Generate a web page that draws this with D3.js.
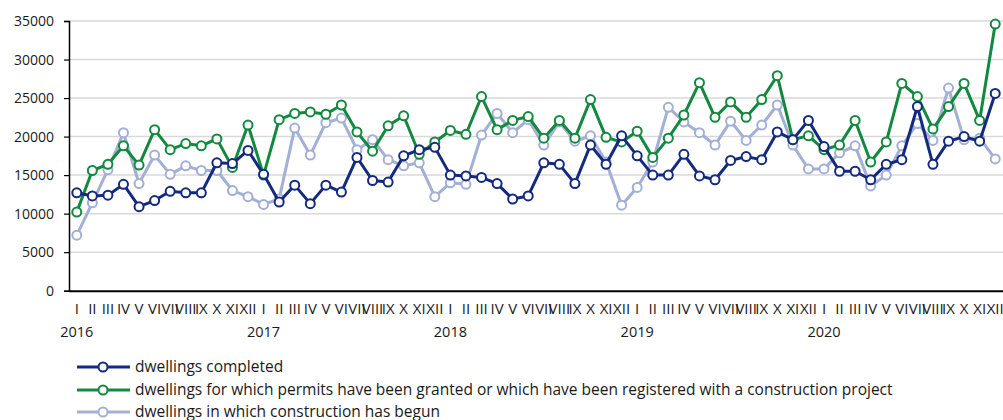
<!DOCTYPE html>
<html><head><meta charset="utf-8">
<script src="https://cdn.jsdelivr.net/npm/d3@7"></script>
<style>body{margin:0;background:#fff;} text{font-family:"Open Sans",sans-serif;fill:#1a1a1a;}</style>
</head><body><svg id="c" width="1003" height="420"></svg>
<script>
const years = ["2016","2017","2018","2019","2020"];
const months = ["I","II","III","IV","V","VI","VII","VIII","IX","X","XI","XII"];
const yTicks = [0,5000,10000,15000,20000,25000,30000,35000];
const seriesNames = ["dwellings completed","dwellings for which permits have been granted or which have been registered with a construction project","dwellings in which construction has begun"];
const completed = [12700,12300,12400,13800,10900,11700,12900,12700,12700,16600,16500,18200,
 15100,11500,13700,11300,13700,12800,17300,14300,14100,17500,18300,18600,
 15000,14900,14700,13900,11900,12300,16600,16400,13900,18900,16400,20100,
 17500,15000,15000,17700,14900,14400,16900,17400,17000,20600,19600,22100,
 18700,15500,15500,14400,16400,17000,23900,16400,19400,20000,19400,25600];
const permits = [10200,15600,16400,18800,16300,20900,18300,19100,18800,19700,16000,21500,
 15000,22200,23000,23200,22900,24100,20600,18100,21400,22700,17700,19300,
 20800,20300,25200,20900,22100,22600,19800,22100,19800,24800,19900,19300,
 20700,17300,19800,22800,27000,22500,24500,22500,24800,27900,19600,20100,
 18300,18900,22100,16700,19300,26900,25200,21000,23900,26900,22100,34600];
const begun = [7200,11400,15700,20500,13900,17600,15100,16200,15600,15600,13000,12200,
 11200,11900,21100,17600,21800,22400,18300,19600,17000,16200,16600,12200,
 14000,13800,20200,23000,20500,22200,18900,21900,19400,20100,16700,11100,
 13400,16700,23800,21900,20500,18900,22000,19500,21500,24100,18900,15800,
 15800,17900,18800,13600,15000,18800,21700,19500,26300,19600,19800,17100];
const colors = ["#142a7e","#13893f","#a3afd4"];

const svg = d3.select("#c");
const L = 69, R = 1003, T = 21, B = 290.7;
const n = years.length*months.length;
const idx = d3.range(n);
const x = d3.scaleBand().domain(idx).range([L,R]);
const y = d3.scaleLinear().domain([0,35000]).range([B,T]);
const cx = i => x(i)+x.bandwidth()/2;

// gridlines
svg.append("g").selectAll("line").data(yTicks.filter(d=>d>0)).join("line")
  .attr("x1",L).attr("x2",R).attr("y1",d=>y(d)).attr("y2",d=>y(d))
  .attr("stroke","#d9d9d9").attr("stroke-width",1.5);

// y axis
const ya = svg.append("g").attr("transform",`translate(${L},0)`)
  .call(d3.axisLeft(y).tickValues(yTicks).tickFormat(d3.format("d")).tickSize(5).tickPadding(10));
ya.select(".domain").attr("stroke","#000").attr("stroke-width",1.5);
ya.selectAll(".tick line").attr("stroke","#000").attr("stroke-width",1.2);
ya.selectAll("text").style("font-size","14px").style("font-family","'Open Sans',sans-serif").attr("fill","#1a1a1a");

// x axis
const xa = svg.append("g").attr("transform",`translate(0,${B})`)
  .call(d3.axisBottom(x).tickSize(0).tickPadding(13).tickFormat(i=>months[i%12]));
xa.select(".domain").attr("stroke","#000").attr("stroke-width",2);
xa.selectAll("text").style("font-size","15px").style("font-family","'Open Sans',sans-serif").attr("fill","#1a1a1a");

// year labels
svg.append("g").selectAll("text").data(years).join("text")
  .attr("x",(d,i)=>cx(i*12)).attr("y",336.5).attr("text-anchor","middle")
  .style("font-size","14.5px").text(d=>d);

// lines
const data = [completed, permits, begun];
const line = d3.line().x((d,i)=>cx(i)).y(d=>y(d));
[2,1,0].forEach(k=>{
  const g = svg.append("g");
  g.append("path").datum(data[k]).attr("d",line).attr("fill","none")
    .attr("stroke",colors[k]).attr("stroke-width",3).attr("stroke-linejoin","round");
  g.selectAll("circle").data(data[k]).join("circle")
    .attr("cx",(d,i)=>cx(i)).attr("cy",d=>y(d)).attr("r",4.5)
    .attr("fill","#fff").attr("stroke",colors[k]).attr("stroke-width",2);
});

// legend
const lg = svg.append("g");
const ly = [367,390,412];
seriesNames.forEach((s,k)=>{
  lg.append("line").attr("x1",77).attr("x2",130).attr("y1",ly[k]).attr("y2",ly[k])
    .attr("stroke",colors[k]).attr("stroke-width",3);
  lg.append("circle").attr("cx",103).attr("cy",ly[k]).attr("r",4.5)
    .attr("fill","#fff").attr("stroke",colors[k]).attr("stroke-width",2);
  lg.append("text").attr("x",135).attr("y",ly[k]).attr("dy","0.35em")
    .style("font-size","15.5px").text(s);
});
</script></body></html>
